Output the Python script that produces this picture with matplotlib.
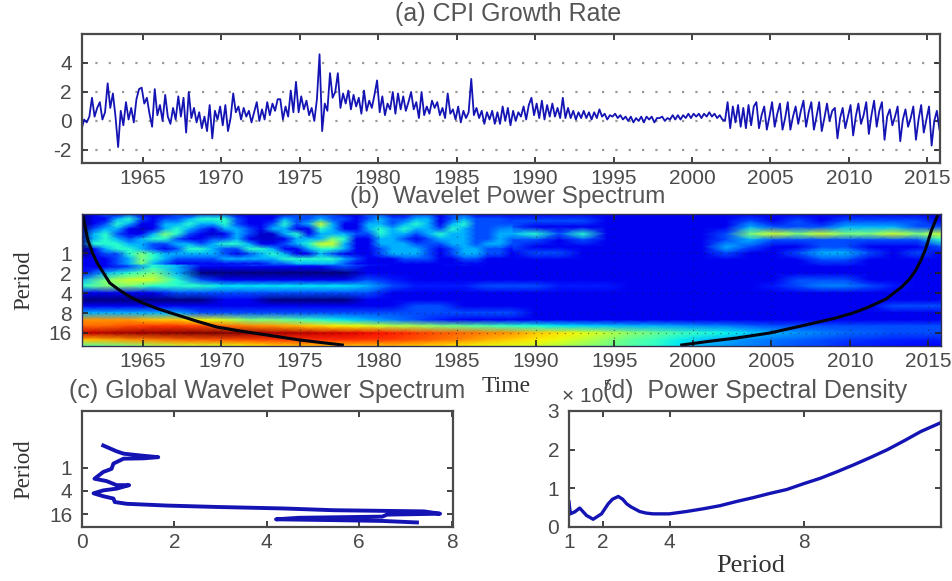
import numpy as np
import matplotlib
matplotlib.use("Agg")
import matplotlib.pyplot as plt

W, H = 952, 581

# (a) CPI growth rate, six readings per year from 1961.1
cpi = [
    -0.6, 0.1, -0.1, 0.3, 1.6, 0.3,
    0.9, 1.3, 0.1, 0.6, 2.6, 0.9,
    1.9, 0.3, -1.8, 0.7, -0.3, 1.3,
    0.1, 0.9, -0.1, 1.5, 2.2, 2.3,
    1.2, 1.6, 0.5, -0.4, 2.2, 0.4,
    1.1, 0.0, 1.8, 0.3, -0.2, 0.9,
    0.1, 1.7, 0.3, 1.6, -0.8, 2.0,
    0.2, 0.9, -0.1, 0.6, -0.5, 0.3,
    -0.7, 1.1, -1.2, 0.7, 0.1, 1.0,
    -0.3, 1.1, -0.7, 0.2, 1.9, 0.6,
    1.0, 0.1, 0.9, 0.3, 0.7, -0.1,
    0.6, 1.3, 0.0, 0.8, 0.1, 1.3,
    0.4, 1.2, 0.7, 1.5, 1.5, 0.1,
    1.0, 0.3, 2.1, 0.6, 2.7, 0.6,
    1.7, 0.8, 1.4, 0.4, 0.9, 0.0,
    1.5, 4.6, -0.7, 1.2, 0.7, 3.3,
    1.6, 2.0, 3.3, 0.9, 1.9, 1.2,
    2.1, 0.8, 1.8, 1.0, 1.6, 0.5,
    2.1, 0.7, 1.4, 0.9, 1.8, 2.8,
    0.6, 1.7, 0.4, 1.2, 0.8, 2.0,
    0.5, 1.9, 0.8, 1.7, 0.7, 1.3,
    2.0, 0.8, 1.3, 0.2, 2.0, 0.4,
    1.0, 0.5, 1.4, 0.9, 1.3, 0.4,
    0.9, 0.2, 1.9, 0.5, 0.8, 0.1,
    1.0, -0.1, 0.7, 0.2, 0.6, 2.9,
    0.4, 0.9, 0.2, 0.7, -0.2, 0.6,
    0.1, 0.7, -0.2, 0.6, -0.2, 1.0,
    0.0, 0.9, -0.3, 0.7, 0.0, 0.6,
    0.3, 1.0, 0.1, 1.1, 1.6, 0.4,
    1.2, 0.2, 1.4, 0.1, 1.1, 0.3,
    1.2, 0.3, 0.9, 0.2, 1.6, 0.2,
    0.9, 0.2, 0.7, 0.1, 0.6, 0.2,
    0.7, 0.2, 0.6, 0.1, 0.6, 0.2,
    0.8, 0.3, 0.5, 0.1, 0.4, 0.3,
    0.5, 0.2, 0.4, 0.1, 0.3, 0.0,
    0.3, -0.1, 0.2, 0.0, 0.3, -0.1,
    0.3, 0.1, 0.3, -0.1, 0.2, 0.2,
    0.3, 0.0, 0.2, 0.1, 0.4, 0.1,
    0.4, 0.1, 0.4, 0.2, 0.5, 0.2,
    0.5, 0.3, 0.5, 0.2, 0.5, 0.3,
    0.6, 0.3, 0.5, 0.2, 0.4, 0.1,
    0.0, 1.3, -0.5, 1.0, -0.1, 1.1,
    -0.4, 0.9, -0.5, 1.1, -0.3, 1.0,
    1.3, -0.5, 0.4, 1.0, -0.6, 0.3,
    1.3, -0.4, 0.5, 1.2, -0.6, 0.2,
    1.3, -0.6, 0.3, 1.0, -0.2, 0.7,
    1.4, -0.4, 0.6, 1.3, -0.6, 0.3,
    1.3, -0.7, 0.2, 1.2, 0.0, 0.7,
    0.9, -1.2, 0.2, 0.9, -0.5, 0.3,
    1.1, -1.0, 0.3, 1.2, -0.2, 0.4,
    1.3, -0.9, 0.4, 1.4, -0.4, 0.7,
    1.3, -1.3, 0.3, 0.8, -0.3, 0.3,
    1.0, -1.4, 0.1, 0.8, -0.4, 0.2,
    1.0, -1.3, 0.1, 1.1, -0.8, 0.1,
    1.0, -1.7, 0.0, 0.7, -0.6,
]

# (b) wavelet power on a 0-10 colour scale, rows by log2 period, columns by year
power_levels = [-1.95, -1.6, -1.3, -0.95, -0.65, -0.3, 0, 0.35, 0.7, 1, 1.35,
                1.65, 2, 2.35, 2.65, 3, 3.35, 3.65, 4, 4.35, 4.65]
power = [
    [0, 1, 2, 1, 1, 2, 1, 2, 2, 1, 2, 2, 1, 1, 1, 2, 1, 1, 1, 1, 1, 1, 1, 1, 1, 1, 1, 1, 1, 1, 1, 1, 1, 1, 1, 1, 1],
    [0, 3, 3, 1, 2, 3, 3, 2, 3, 3, 3, 2, 2, 2, 2, 3, 2, 2, 2, 2, 2, 2, 1, 1, 1, 1, 1, 1, 2, 1, 2, 1, 2, 2, 2, 2, 1],
    [0, 2, 4, 2, 3, 4, 2, 4, 3, 2, 6, 2, 1, 3, 3, 3, 3, 3, 2, 1, 1, 1, 1, 1, 1, 1, 1, 1, 3, 2, 2, 2, 3, 3, 3, 2, 2],
    [0, 4, 2, 4, 5, 3, 3, 2, 2, 4, 4, 3, 2, 3, 2, 3, 4, 3, 3, 4, 2, 4, 1, 1, 1, 1, 1, 2, 5, 6, 5, 6, 5, 5, 6, 5, 6],
    [0, 4, 2, 1, 3, 3, 2, 1, 1, 3, 4, 3, 1, 2, 2, 2, 3, 3, 2, 2, 1, 2, 1, 1, 1, 1, 1, 2, 3, 2, 2, 2, 2, 2, 2, 2, 4],
    [0, 2, 4, 3, 2, 3, 4, 3, 3, 2, 6, 3, 1, 2, 2, 3, 3, 3, 2, 1, 1, 1, 1, 1, 1, 1, 1, 3, 2, 1, 1, 2, 2, 1, 1, 1, 2],
    [0, 2, 3, 4, 2, 2, 3, 3, 4, 3, 3, 2, 1, 1, 2, 3, 3, 3, 1, 2, 2, 1, 1, 1, 1, 1, 1, 2, 1, 1, 2, 3, 3, 2, 1, 2, 1],
    [1, 1, 3, 4, 3, 2, 2, 3, 3, 3, 4, 3, 2, 1, 1, 1, 2, 1, 1, 1, 1, 1, 1, 1, 1, 1, 1, 1, 1, 1, 1, 2, 2, 1, 1, 1, 1],
    [1, 1, 2, 4, 3, 1, 1, 1, 1, 1, 1, 2, 1, 1, 1, 1, 1, 1, 1, 1, 1, 1, 1, 1, 1, 1, 1, 1, 1, 1, 1, 1, 1, 1, 1, 1, 1],
    [1, 3, 4, 5, 3, 0, 0, 0, 0, 0, 0, 0, 1, 1, 1, 1, 1, 1, 1, 1, 1, 1, 1, 1, 1, 1, 1, 1, 1, 1, 1, 1, 1, 1, 1, 1, 1],
    [3, 5, 6, 6, 4, 2, 1, 1, 1, 1, 1, 1, 2, 1.5, 1, 1, 1, 1, 1, 1, 1, 1, 1, 1, 1, 1, 1, 1, 1, 1, 2, 2, 2, 1, 1, 1, 1],
    [4, 5, 5, 4, 4, 4, 3.5, 3.5, 3.5, 3.5, 3.5, 3.5, 3, 2, 1.5, 1.5, 1.5, 2, 2, 2, 1.5, 1.5, 1.5, 1, 1, 1, 1, 1, 1, 1.5, 2, 2.5, 2.5, 2, 1.5, 1, 1],
    [1, 1, 1, 1, 2, 2, 2, 2, 2, 2, 2, 2, 2, 1, 1, 1, 1, 1, 1, 1, 1, 1, 1, 1, 1, 1, 1, 1, 1, 1, 1, 1, 1, 1, 1, 1, 1],
    [0, 0, 0, 0, 0, 0, 1, 1, 0, 0, 0, 0, 1, 1, 1, 1, 1, 1, 1, 1, 1, 1, 1, 1, 1, 1, 1, 1, 1, 1, 1, 1, 1, 1, 1, 1, 1],
    [1, 1, 1, 1, 1, 1, 1, 1, 1, 1, 1, 1, 1, 1, 2, 2, 1, 1, 1, 1, 1, 1, 1, 1, 1, 1, 1, 1, 1, 1, 1, 1, 1, 1, 2, 2, 2],
    [3, 3, 3, 3, 3, 2, 2, 2, 2, 2, 2, 2, 2, 2, 2, 2, 2, 2, 2, 1, 1, 1, 1, 1, 1, 1, 1, 1, 1, 1, 1, 1, 1, 1, 1, 1, 1],
    [7.5, 7.5, 7.5, 7, 7, 6.5, 6, 5, 5, 4.5, 4, 3.5, 3, 2.5, 2, 1.5, 1, 1, 1, 1, 1, 1, 1, 1, 1, 1, 1, 1, 1, 1, 1, 1, 1, 1, 1, 1, 1],
    [8, 8, 8.3, 8.5, 8.5, 8.3, 8, 7.7, 7.5, 7.2, 6.8, 6.5, 6.2, 5.7, 5.5, 5, 4.7, 4.4, 4.1, 3.8, 3.5, 3.3, 3.2, 3, 3, 2.8, 2.6, 2.5, 2.2, 2, 2, 2, 2, 2, 2, 2, 2],
    [9.3, 9.5, 9.7, 9.8, 9.9, 10, 10, 9.8, 9.6, 9.5, 9.3, 9.2, 9, 8.8, 8.5, 8.2, 8, 7.7, 7.5, 7, 6.7, 6.3, 5.8, 5.2, 4.8, 4.3, 4, 3.7, 3.3, 3, 2.7, 2.5, 2.3, 2.2, 2, 2, 2],
    [7, 7.2, 7.5, 7.7, 8, 8.1, 8.2, 8.3, 8.4, 8.5, 8.6, 8.6, 8.5, 8.4, 8.2, 7.9, 7.6, 7.2, 6.9, 6.6, 6.3, 5.8, 5.2, 4.6, 4.2, 3.6, 3.2, 2.9, 2.6, 2.4, 2.2, 2, 1.8, 1.7, 1.6, 1.5, 1.5],
    [4.5, 4.7, 5, 5.5, 6, 6.1, 6.2, 6.5, 6.8, 7, 7, 7, 7, 7, 6.9, 6.7, 6.5, 6.3, 6.2, 6, 5.6, 5.2, 4.9, 4.5, 4.1, 3.5, 3, 2.7, 2.5, 2.3, 2, 1.9, 1.6, 1.5, 1.4, 1.3, 1.2],
]

# finer reading of the net of short periods, 1961 to about 1988
fine_year_end = 1988.5
fine_levels = [-1.95, -1.7, -1.45, -1.2, -0.95, -0.7, -0.45, -0.2, 0.05, 0.3, 0.55]
fine_power = [
    [0, 1, 2, 1, 2, 1, 1, 1, 2, 1, 2, 2, 2, 1, 1, 1, 1, 1, 2, 2, 2, 2, 1, 1, 2, 2, 1, 1, 2, 2, 1, 2, 2, 1, 1, 1, 1],
    [0, 1, 1, 3, 4, 2, 1, 2, 2, 3, 4, 4, 4, 2, 1, 1, 1, 3, 2, 2, 3, 2, 2, 1, 2, 3, 2, 2, 3, 3, 1, 2, 3, 2, 2, 2, 1.7],
    [0, 1, 2, 4, 3, 1, 1, 3, 3, 4, 3, 3, 4, 2, 1, 1, 2, 4, 2, 3, 6, 3, 1, 1, 3, 3, 2, 3, 4, 3, 1, 3, 4, 2, 2, 2, 2],
    [0, 2, 3, 3, 1, 0.7, 1, 3, 4, 3, 2, 1, 3, 3, 2, 1, 3, 3, 1, 1, 4, 3, 1, 1, 3, 4, 3, 4, 3, 3, 2, 4, 3, 2, 2, 2.5, 2.7],
    [0, 3, 4, 2, 1, 1, 3, 5, 4, 2, 1, 0.7, 1, 3, 2, 0.7, 0.7, 3, 4, 1, 3, 3, 3, 2, 2, 4, 3, 3, 2, 3, 4, 3, 3, 2, 2, 3, 3],
    [0, 3, 4, 3, 2, 3, 4, 4, 2, 1, 1, 2, 2, 3, 1, 0.7, 0.7, 1, 3, 3, 3, 5, 4, 1, 1, 3, 3, 2, 1, 2, 3, 3, 3, 2, 2, 3, 2.2],
    [0, 4, 4, 4, 3, 3, 2, 2, 3, 3, 2, 3, 4, 4, 3, 1, 1, 2, 3, 4, 6, 6, 3, 1, 1, 3, 3, 3, 2, 2, 2, 3, 3, 2, 3, 3, 2],
    [0, 1, 3, 4, 4, 3, 2, 1, 2, 4, 4, 3, 2, 2, 4, 4, 3, 1, 1, 3, 4, 4, 3, 1, 1, 2, 3, 3, 3, 2, 1, 2, 3, 3, 2, 2, 1.3],
    [0, 1, 2, 2, 4, 5, 4, 3, 3, 3, 3, 3, 2, 1, 2, 3, 4, 3, 1, 1, 3, 2, 1, 1, 1, 2, 3, 3, 3, 2, 1, 2, 3, 3, 2, 2, 1],
    [1, 1, 1, 2, 3, 5, 4, 3, 2, 2, 2, 2, 3, 3, 3, 3, 3, 4, 4, 4, 4, 4, 3, 2, 1, 1, 1, 2, 2, 2, 1, 1, 2, 2, 1, 1, 1],
    [1, 1, 1, 2, 3, 5, 3, 2, 1, 1, 1, 1, 1, 1, 1, 1, 2, 2, 3, 3, 3, 3, 2, 1, 1, 1, 1, 1, 1, 1, 1, 1, 1, 1, 1, 1, 1],
]

# cone of influence
coi_left_year = [1961.2, 1961.5, 1961.8, 1962.1, 1962.5, 1962.9, 1963.5, 1964.2, 1965, 1966, 1967.2, 1968.4,
                 1969.7, 1971.2, 1972.9, 1975, 1977.7]
coi_left_log2 = [-1.8, -0.65, 0.0, 0.5, 1.0, 1.5, 1.85, 2.2, 2.5, 2.8, 3.1, 3.4, 3.7, 3.9, 4.1, 4.35, 4.6]
coi_right_year = [1999.3, 2001, 2002.8, 2004.9, 2006.9, 2008, 2009.1, 2010.2, 2011.2, 2012.3, 2013.3, 2013.8,
                  2014.2, 2014.5, 2014.8, 2015.2, 2015.6]
coi_right_log2 = [4.6, 4.42, 4.25, 4, 3.65, 3.45, 3.25, 3.0, 2.7, 2.3, 1.7, 1.3, 0.85, 0.4, -0.15, -1.15, -1.9]

# (c) global wavelet spectrum
gws_power = [.46, .75, .9, 1.25, 1.65, 1.33, .9, .68, .64, .46, .27, .53, .75, 1.02, .75, .46, .25, .46,
             .68, .71, .97, 1.83, 2.9, 4.36, 5.44, 7.4, 7.75, 6.6, 6.5, 4.7, 4.2, 5.45, 6.5, 7.25]
gws_log2 = [-1.9, -1.4, -1.2, -1.05, -.9, -.8, -.77, -.35, .1, .37, .95, 1.15, 1.5, 1.5, 1.8, 1.95, 2.2, 2.45,
            2.65, 2.95, 3.1, 3.25, 3.37, 3.5, 3.65, 3.75, 3.95, 4.03, 4.2, 4.3, 4.43, 4.5, 4.57, 4.7]

# (d) power spectral density
psd_period = [1, 1.04, 1.09, 1.17, 1.32, 1.52, 1.72, 1.97, 2.17, 2.3, 2.47, 2.6, 2.72, 2.85, 3.11, 3.3, 3.51, 3.99,
              4.5, 5, 5.5, 6, 6.5, 7, 7.5, 8, 8.5, 9, 9.5, 10, 10.5, 11, 11.5, 12.1]
psd_value = [.65, .34, .36, .39, .49, .3, .2, .34, .6, .72, .79, .72, .6, .52, .4, .36, .34, .34,
             .4, .47, .55, .66, .76, .87, .97, 1.12, 1.26, 1.43, 1.61, 1.8, 2.0, 2.23, 2.47, 2.7]

year_ticks = [1965, 1970, 1975, 1980, 1985, 1990, 1995, 2000, 2005, 2010, 2015]
t0, t1 = 1961.1, 2015.8
GREY = "#4a4a4a"
LINE = "#1414b4"
plt.rcParams["font.family"] = ["Liberation Sans", "DejaVu Sans"]


def make_axes(left, top, right, bottom):
    ax = fig.add_axes([left / W, 1 - bottom / H, (right - left) / W, (bottom - top) / H])
    ax.tick_params(direction="in", length=4, width=1.2, top=True, right=True, labelsize=15,
                   colors="#222222", labelcolor=GREY)
    ax.tick_params(axis="x", pad=4)
    ax.tick_params(axis="y", pad=7)
    for s in ax.spines.values():
        s.set_linewidth(1.6)
        s.set_color(GREY)
    return ax


def label(x, y, s, size=18, **kw):
    fig.text(x / W, 1 - y / H, s, fontsize=size, color=kw.pop("color", "#555555"), ha="center", va="center", **kw)


fig = plt.figure(figsize=(W / 100, H / 100), dpi=100)

# (a)
ax = make_axes(81.5, 34, 940, 163)
t = t0 + np.arange(len(cpi)) / 6
ax.plot(t, cpi, color=LINE, lw=1.3)
ax.set_xlim(t0, t1)
ax.set_ylim(-2.9, 6)
ax.set_xticks(year_ticks)
ax.set_yticks([-2, 0, 2, 4])
ax.set_yticklabels(["-2", "0", "2", "4"])
ax.grid(axis="y", color="#9a9a9a", lw=1.6, ls=(0, (1, 5)))
ax.set_axisbelow(True)

# (b)
ax = make_axes(81.5, 214, 941, 346)
years = np.linspace(t0, t1, len(power[0]))
ax.pcolormesh(years, 2.0 ** np.array(power_levels), np.array(power), cmap="jet", vmin=0, vmax=10, shading="gouraud")
fine_years = np.linspace(t0, fine_year_end, len(fine_power[0]))
ax.pcolormesh(fine_years, 2.0 ** np.array(fine_levels), np.array(fine_power), cmap="jet", vmin=0, vmax=10,
              shading="gouraud")
ax.plot(coi_left_year, 2.0 ** np.array(coi_left_log2), color="#050510", lw=2.2)
ax.plot(coi_right_year, 2.0 ** np.array(coi_right_log2), color="#050510", lw=2.2)
ax.set_yscale("log", base=2)
ax.set_ylim(2 ** 4.65, 2 ** -1.95)
ax.set_xlim(t0, t1)
ax.set_xticks(year_ticks)
ax.set_yticks([1, 2, 4, 8, 16])
ax.set_yticklabels(["1", "2", "4", "8", "16"])
ax.minorticks_off()
ax.grid(color="#202020", lw=0.8, ls=(0, (1, 6)), alpha=0.6)
for s in ax.spines.values():
    s.set_linewidth(1.0)
    s.set_color("#303050")

# (c)
ax = make_axes(82, 411, 453, 527)
ax.plot(gws_power, 2.0 ** np.array(gws_log2), color=LINE, lw=2.8)
ax.set_yscale("log", base=2)
ax.set_ylim(2 ** 5.09, 2 ** -4.86)
ax.set_xlim(0, 8.03)
ax.set_xticks([0, 2, 4, 6, 8])
ax.set_yticks([1, 4, 16])
ax.set_yticklabels(["1", "4", "16"])
ax.minorticks_off()

# (d)
ax = make_axes(569, 411, 941, 527)
ax.plot(psd_period, psd_value, color=LINE, lw=2.4)
ax.set_xlim(1, 12.1)
ax.set_ylim(0, 3)
ax.set_xticks([1, 2, 4, 8])
ax.set_yticks([0, 1, 2, 3])

# titles and labels, placed as on the source figure
label(508, 14, "(a) CPI Growth Rate")
label(508, 197, "(b)  Wavelet Power Spectrum", size=17.5)
label(267, 391, "(c) Global Wavelet Power Spectrum")
label(755, 391, "(d)  Power Spectral Density")
label(583, 397, "\u00d7 10", size=15, color=GREY)
label(607, 386, "5", size=10, color=GREY)
label(24, 280, "Period", size=16.5, rotation=90, family="Liberation Serif", color="#333333")
label(24, 469, "Period", size=16.5, rotation=90, family="Liberation Serif", color="#333333")
label(506, 386, "Time", size=17, family="Liberation Serif", color="#333333")
label(751, 566, "Period", size=19, family="Liberation Serif", color="#333333")

plt.savefig("out.png", dpi=100)
